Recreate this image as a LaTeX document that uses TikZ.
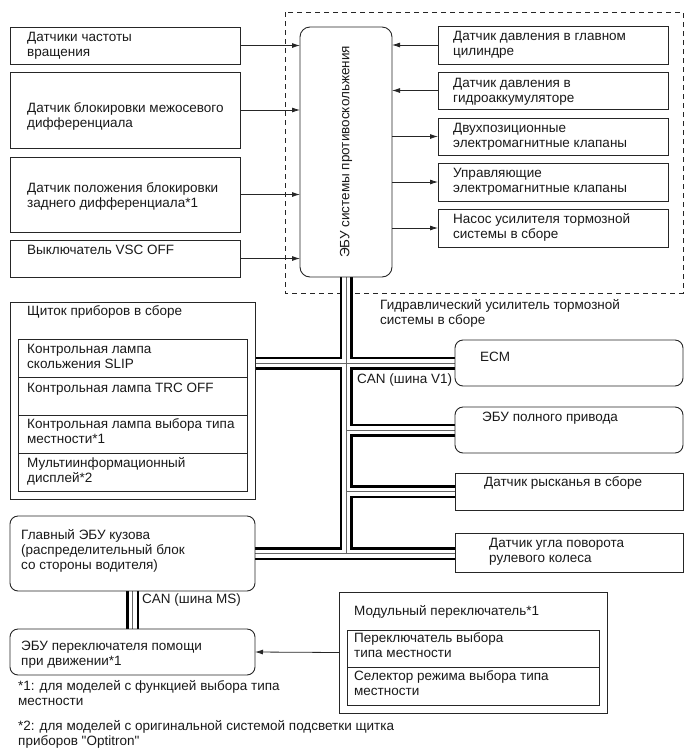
\documentclass[tikz,border=0pt]{standalone}
\usepackage{fontspec}
\setmainfont{Liberation Sans}
\usetikzlibrary{arrows.meta,positioning,backgrounds}

\begin{document}
\begin{tikzpicture}[x=1pt, y=-1pt, >={Latex[length=8pt,width=5pt]},
    box/.style={draw=black!85, line width=0.9pt, anchor=north west, inner sep=0pt, outer sep=0pt},
    rbox/.style={box, rounded corners=8pt},
    txt/.style={anchor=base west, align=left, inner sep=0pt, font=\fontsize{13.5}{15}\selectfont, text=black!90},
    arr/.style={->, line width=0.8pt, black!85},
    busouter/.style={line width=13pt, black},
    businner/.style={line width=8pt, white},
    buswire/.style={line width=0.8pt, black!60}]

    \useasboundingbox (0,0) rectangle (690,756);

    % Datchiki sleva (tekst: base = poslednyaya stroka)
    \node[box, minimum width=230pt, minimum height=37pt] (wss) at (10,27) {};
    \node[box, minimum width=230pt, minimum height=76pt] (cdl) at (10,72) {};
    \node[box, minimum width=230pt, minimum height=75pt] (rdl) at (10,157) {};
    \node[box, minimum width=230pt, minimum height=37pt] (vsc) at (10,240) {};
    \node[txt] (wsst) at (27,56) {Датчики частоты\\вращения};
    \node[txt] (cdlt) at (27,127) {Датчик блокировки межосевого\\дифференциала};
    \node[txt] (rdlt) at (27,207) {Датчик положения блокировки\\заднего дифференциала*1};
    \node[txt] (vsct) at (27,254) {Выключатель VSC OFF};

    % EBU i gidravlicheskij blok
    \node[rbox, rounded corners=10pt, minimum width=92pt, minimum height=250pt] (ecu) at (300,27) {};
    \node[txt, rotate=90, anchor=center] (ecut) at (ecu.center) {ЭБУ системы противоскольжения};

    \node[box, minimum width=230pt, minimum height=38pt] (mcp) at (438,26) {};
    \node[box, minimum width=230pt, minimum height=37pt] (acc) at (438,72) {};
    \node[box, minimum width=230pt, minimum height=37pt] (slv) at (438,118) {};
    \node[box, minimum width=230pt, minimum height=38pt] (ctl) at (438,163) {};
    \node[box, minimum width=230pt, minimum height=38pt] (pmp) at (438,209) {};
    \node[txt] (mcpt) at (453,55) {Датчик давления в главном\\цилиндре};
    \node[txt] (acct) at (453,102) {Датчик давления в\\гидроаккумуляторе};
    \node[txt] (slvt) at (453,147) {Двухпозиционные\\электромагнитные клапаны};
    \node[txt] (ctlt) at (453,192) {Управляющие\\электромагнитные клапаны};
    \node[txt] (pmpt) at (453,238) {Насос усилителя тормозной\\системы в сборе};
    \node[txt] (hydt) at (380,324) {Гидравлический усилитель тормозной\\системы в сборе};

    % Shchitok priborov
    \node[box, minimum width=245pt, minimum height=197pt] (cmb) at (10,302) {};
    \node[box, minimum width=229pt, minimum height=38pt] (slip) at (18,339) {};
    \node[box, minimum width=229pt, minimum height=38pt] (trc) at (18,377) {};
    \node[box, minimum width=229pt, minimum height=38pt] (lmp) at (18,415) {};
    \node[box, minimum width=229pt, minimum height=38pt] (mid) at (18,453) {};
    \node[txt] (cmbt) at (27,315) {Щиток приборов в сборе};
    \node[txt] (slipt) at (27,368) {Контрольная лампа\\скольжения SLIP};
    \node[txt] (trct) at (27,392) {Контрольная лампа TRC OFF};
    \node[txt] (lmpt) at (27,443) {Контрольная лампа выбора типа\\местности*1};
    \node[txt] (midt) at (27,482) {Мультиинформационный\\дисплей*2};

    % EBU kuzova i pereklyuchatel
    \node[rbox, minimum width=245pt, minimum height=75pt] (mbe) at (10,516) {};
    \node[rbox, minimum width=245pt, minimum height=46pt] (das) at (10,629) {};
    \node[txt] (mbet) at (21,569) {Главный ЭБУ кузова\\(распределительный блок\\со стороны водителя)};
    \node[txt] (dast) at (21,665) {ЭБУ переключателя помощи\\при движении*1};
    \node[txt] (canms) at (142,603) {CAN (шина MS)};

    \node[box, minimum width=268pt, minimum height=121pt] (msw) at (339,592) {};
    \node[box, minimum width=252pt, minimum height=37pt] (sel) at (347,630) {};
    \node[box, minimum width=252pt, minimum height=38pt] (mod) at (347,667) {};
    \node[txt] (mswt) at (354,615) {Модульный переключатель*1};
    \node[txt] (selt) at (354,657) {Переключатель выбора\\типа местности};
    \node[txt] (modt) at (354,695) {Селектор режима выбора типа\\местности};

    % Bloki na CAN
    \node[rbox, minimum width=228pt, minimum height=46pt] (ecm) at (455,340) {};
    \node[rbox, minimum width=228pt, minimum height=46pt] (awd) at (455,407) {};
    \node[box, minimum width=228pt, minimum height=37pt] (yaw) at (455,473) {};
    \node[box, minimum width=228pt, minimum height=39pt] (sas) at (455,533) {};
    \node[txt] (ecmt) at (480,361) {ECM};
    \node[txt] (awdt) at (482,421) {ЭБУ полного привода};
    \node[txt] (yawt) at (484,486) {Датчик рысканья в сборе};
    \node[txt] (sast) at (489,562) {Датчик угла поворота\\рулевого колеса};
    \node[txt] (canv) at (357,383) {CAN (шина V1)};

    % Snoski
    \node[txt] (fn1) at (18,705) {*1: для моделей с функцией выбора типа\\местности};
    \node[txt] (fn2) at (18,745) {*2: для моделей с оригинальной системой подсветки щитка\\приборов \textquotedbl Optitron\textquotedbl};

    % Signalnye linii
    \draw[arr] (wss.east) -- (wss.east -| ecu.west);
    \draw[arr] (cdl.east) -- (cdl.east -| ecu.west);
    \draw[arr] (rdl.east) -- (rdl.east -| ecu.west);
    \draw[arr] (vsc.east) -- (vsc.east -| ecu.west);
    \draw[arr] (mcp.west) -- (mcp.west -| ecu.east);
    \draw[arr] (acc.west) -- (acc.west -| ecu.east);
    \draw[arr] (slv.west -| ecu.east) -- (slv.west);
    \draw[arr] (ctl.west -| ecu.east) -- (ctl.west);
    \draw[arr] (pmp.west -| ecu.east) -- (pmp.west);
    \draw[arr] (msw.west) -- (das.east);

    % Shina CAN i gidroblok (pod uzlami)
    \begin{scope}[on background layer]
        \draw[black!85, line width=0.8pt, dash pattern=on 5pt off 4pt] (285,12) rectangle (683,293);
        \foreach \s in {busouter,businner,buswire} {
            \draw[\s] (ecu.south) -- (ecu.south |- mbe.east);
            \draw[\s] (cmb.east |- ecm.west) -- (ecm.west);
            \draw[\s] (ecu.south |- awd.west) -- (awd.west);
            \draw[\s] (ecu.south |- yaw.west) -- (yaw.west);
            \draw[\s] (mbe.east) -- (mbe.east -| sas.west);
            \draw[\s] (mbe.south) -- (das.north);
        }
    \end{scope}

\end{tikzpicture}
\end{document}
